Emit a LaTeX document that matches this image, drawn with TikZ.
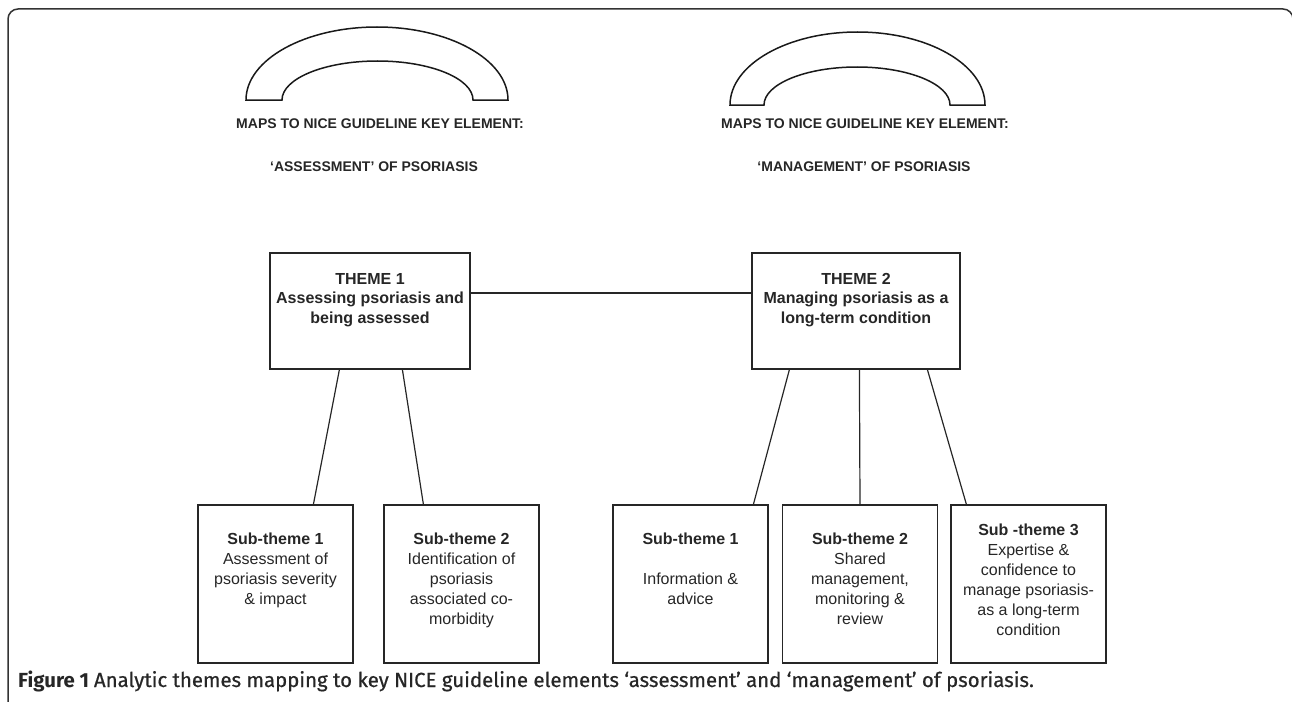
\documentclass[tikz,border=0pt]{standalone}
\usepackage{fontspec}
\setmainfont{Liberation Sans}
\newfontfamily\capbold{Fira Sans}
\newfontfamily\capsemi{Fira Sans}[FakeBold=0.6]
\begin{document}
\begin{tikzpicture}[x=1pt,y=-1pt,
  ln/.style={line width=1.2pt, draw=black!85},
  arch/.style={line width=1.5pt, draw=black!90, fill=white},
  box/.style={ln, rectangle, inner sep=0pt},
  hdr/.style={font=\bfseries\fontsize{14}{17}\selectfont, text=black!85, inner sep=0pt},
  ttxt/.style={font=\bfseries\fontsize{16}{19.5}\selectfont, text=black!85, align=center, inner sep=0pt, anchor=north},
  stxt/.style={font=\fontsize{16}{20}\selectfont, text=black!85, align=center, inner sep=0pt, anchor=north}]
\useasboundingbox (0,0) rectangle (1292,701);
\clip (0,0) rectangle (1292,701);
% frame
\draw[line width=1.5pt, draw=black!80, rounded corners=10pt] (8,720) -- (8,9) -- (1293,9) -- (1293,720);
% arches
\draw[arch] (246,100) arc[start angle=180, end angle=360, x radius=131, y radius=73]
  -- (473,100) arc[start angle=0, end angle=-180, x radius=95.5, y radius=39] -- cycle;
\draw[arch] (730,105) arc[start angle=180, end angle=360, x radius=127.5, y radius=73]
  -- (950,105) arc[start angle=0, end angle=-180, x radius=93, y radius=38] -- cycle;
% headings
\node[hdr] (h1a) at (380,124) {MAPS TO NICE GUIDELINE KEY ELEMENT:};
\node[hdr] (h1b) at (374,167) {‘ASSESSMENT’ OF PSORIASIS};
\node[hdr] (h2a) at (865,124) {MAPS TO NICE GUIDELINE KEY ELEMENT:};
\node[hdr] (h2b) at (864,167) {‘MANAGEMENT’ OF PSORIASIS};
% theme boxes
\node[box, minimum width=200, minimum height=116] (t1) at (370,311) {};
\node[box, minimum width=208, minimum height=116] (t2) at (856,311) {};
\node[ttxt] (t1t) at (370,273) {THEME 1\\Assessing psoriasis and\\being assessed};
\node[ttxt] (t2t) at (856,273) {THEME 2\\Managing psoriasis as a\\long-term condition};
% sub-theme boxes
\node[box, minimum width=155, minimum height=158] (sa) at (275.5,584) {};
\node[box, minimum width=155, minimum height=158] (sb) at (461.5,584) {};
\node[box, minimum width=155, minimum height=158] (sc) at (690.5,584) {};
\node[box, minimum width=155, minimum height=158] (sd) at (860,584) {};
\node[box, minimum width=155, minimum height=158] (se) at (1028.5,584) {};
\node[stxt] (sat) at (275.5,533) {\textbf{Sub-theme 1}\\Assessment of\\psoriasis severity\\\& impact};
\node[stxt] (sbt) at (461.5,533) {\textbf{Sub-theme 2}\\Identification of\\psoriasis\\associated co-\\morbidity};
\node[stxt] (sct) at (690.5,533) {\textbf{Sub-theme 1}\\[20pt]Information \&\\advice};
\node[stxt] (sdt) at (860,533) {\textbf{Sub-theme 2}\\Shared\\management,\\monitoring \&\\review};
\node[stxt] (set) at (1028.5,524) {\textbf{Sub -theme 3}\\Expertise \&\\confidence to\\manage psoriasis-\\as a long-term\\condition};
% connectors
\draw[ln] ([yshift=18pt]t1.east) -- ([yshift=18pt]t2.west);
\draw[ln] ([xshift=70pt]t1.south west) -- ([xshift=116pt]sa.north west);
\draw[ln] ([xshift=133pt]t1.south west) -- ([xshift=40pt]sb.north west);
\draw[ln] ([xshift=38pt]t2.south west) -- ([xshift=141pt]sc.north west);
\draw[ln] ([xshift=108pt]t2.south west) -- (sd.north);
\draw[ln] ([xshift=176pt]t2.south west) -- ([xshift=16pt]se.north west);
% caption
\node[anchor=base west, inner sep=0pt, text=black!85] (cap) at (18,687)
  {\capbold\fontsize{20.4}{23}\selectfont\bfseries Figure 1 \capsemi\mdseries Analytic themes mapping to key NICE guideline elements ‘assessment’ and ‘management’ of psoriasis.};
\end{tikzpicture}
\end{document}
